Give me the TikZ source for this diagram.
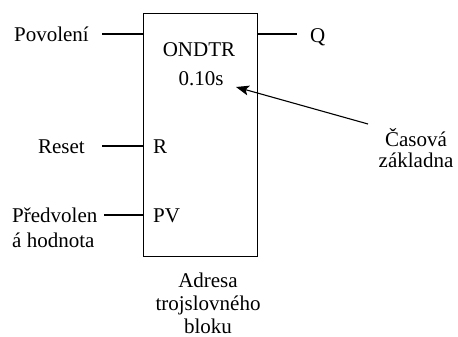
\documentclass[tikz,border=0pt]{standalone}
\usepackage{fontspec}
\setmainfont{Liberation Serif}
\usetikzlibrary{arrows.meta}
\begin{document}
\begin{tikzpicture}[x=1pt,y=-1pt,
  lbl/.style={inner sep=0pt,font=\fontsize{21}{21}\selectfont},
  wire/.style={line width=1.1pt},
  blk/.style={draw,line width=1.1pt,inner sep=0pt,minimum width=114pt,minimum height=243pt,anchor=north west}]
\useasboundingbox (0,0) rectangle (458,337);
\node[blk] (box) at (143,13) {};
% labels
\node[lbl,anchor=base east] (pov) at (89,42) {Povolení};
\node[lbl,anchor=base east] (res) at (85,153) {Reset};
\node[lbl,anchor=base west,align=left,font=\fontsize{21}{25}\selectfont] (pv) at (12,247) {Předvolen\\á hodnota};
\node[lbl,anchor=base west] (q) at (310,43) {Q};
\node[lbl,anchor=base] (ondtr) at (199,57) {ONDTR};
\node[lbl,anchor=base] (tb) at (201,85) {0.10s};
\node[lbl,anchor=base west] (r) at (153,153) {R};
\node[lbl,anchor=base west] (pvin) at (153,222) {PV};
\node[lbl,anchor=base,align=center,font=\fontsize{21}{21}\selectfont] (cas) at (416,167) {Časová\\základna};
\node[lbl,anchor=base,align=center,font=\fontsize{21}{23}\selectfont] (adr) at (208,333) {Adresa\\trojslovného\\bloku};
% pin coordinates
\coordinate (povA) at (102,34);
\coordinate (povB) at (143,34);
\coordinate (resA) at (102,146);
\coordinate (resB) at (143,146);
\coordinate (pvA) at (104,215);
\coordinate (pvB) at (143,215);
\coordinate (qA) at (257,34);
\coordinate (qB) at (297,34);
\coordinate (arrA) at (368,124);
\coordinate (arrB) at (236,87);
\draw[wire] (povA) -- (povB);
\draw[wire] (resA) -- (resB);
\draw[wire] (pvA) -- (pvB);
\draw[wire] (qA) -- (qB);
\draw[wire,-{Stealth[length=13pt,width=10pt,inset=3pt]}] (arrA) -- (arrB);
\end{tikzpicture}
\end{document}
